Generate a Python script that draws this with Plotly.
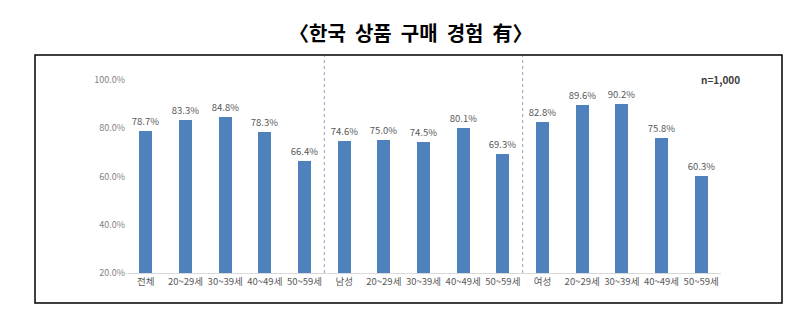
import plotly.graph_objects as go

categories = ["전체", "20~29세", "30~39세", "40~49세", "50~59세",
              "남성", "20~29세", "30~39세", "40~49세", "50~59세",
              "여성", "20~29세", "30~39세", "40~49세", "50~59세"]
values = [78.7, 83.3, 84.8, 78.3, 66.4,
          74.6, 75.0, 74.5, 80.1, 69.3,
          82.8, 89.6, 90.2, 75.8, 60.3]
y_ticks = [20, 40, 60, 80, 100]
title_text = "〈한국\u00a0 상품\u00a0 구매\u00a0 경험\u00a0 有〉"
note_text = "n=1,000"

xpos = list(range(len(categories)))
font_family = "Noto Sans CJK KR, Malgun Gothic, sans-serif"

fig = go.Figure()
fig.add_trace(go.Bar(
    x=xpos, y=values, width=0.32,
    marker=dict(color="#4f81bd", line=dict(width=0)),
    text=[f"{v:.1f}%" for v in values],
    textposition="outside",
    constraintext="none",
    textfont=dict(size=9.5, color="#595959", family=font_family),
    cliponaxis=False,
))

L, R, T, B = 126, 89, 56, 61
W, H = 810, 334
pw, ph = W - L - R, H - T - B

def px_x(px):
    return (px - L) / pw

def px_y(py):
    return (H - B - py) / ph

shapes = [
    dict(type="rect", xref="paper", yref="paper",
         x0=px_x(35), x1=px_x(782), y0=px_y(303), y1=px_y(55),
         line=dict(color="black", width=1.5), fillcolor="rgba(0,0,0,0)", layer="below"),
]
for xd in [4.5, 9.5]:
    shapes.append(dict(type="line", xref="x", yref="paper", x0=xd, x1=xd, y0=0, y1=px_y(56),
                       line=dict(color="#8fa0bf", width=1, dash="dot")))

fig.update_layout(
    width=W, height=H,
    margin=dict(l=L, r=R, t=T, b=B),
    paper_bgcolor="white", plot_bgcolor="white",
    showlegend=False,
    font=dict(family=font_family, color="#595959"),
    bargap=0,
    xaxis=dict(
        range=[-0.5, len(categories) - 0.5],
        tickvals=xpos, ticktext=categories,
        tickfont=dict(size=9.5, color="#595959"),
        showline=True, linecolor="#d9d9d9", linewidth=1,
        showgrid=False, zeroline=False, ticks="",
    ),
    yaxis=dict(
        range=[20, 110],
        tickvals=y_ticks,
        ticktext=[f"{v:.1f}%" for v in y_ticks],
        tickfont=dict(size=9, color="#7f7f7f"),
        showgrid=False, zeroline=False, showline=False, ticks="",
    ),
    shapes=shapes,
    annotations=[
        dict(text="<b>" + title_text + "</b>", xref="paper", yref="paper",
             x=px_x(411), y=px_y(33), xanchor="center", yanchor="middle",
             showarrow=False,
             font=dict(size=20, color="black", family="Noto Sans CJK KR")),
        dict(text="<b>" + note_text + "</b>", xref="paper", yref="paper",
             x=px_x(742), y=px_y(79), xanchor="right", yanchor="middle",
             showarrow=False, font=dict(size=10, color="#404040")),
    ],
)

fig.write_html("out.html")
